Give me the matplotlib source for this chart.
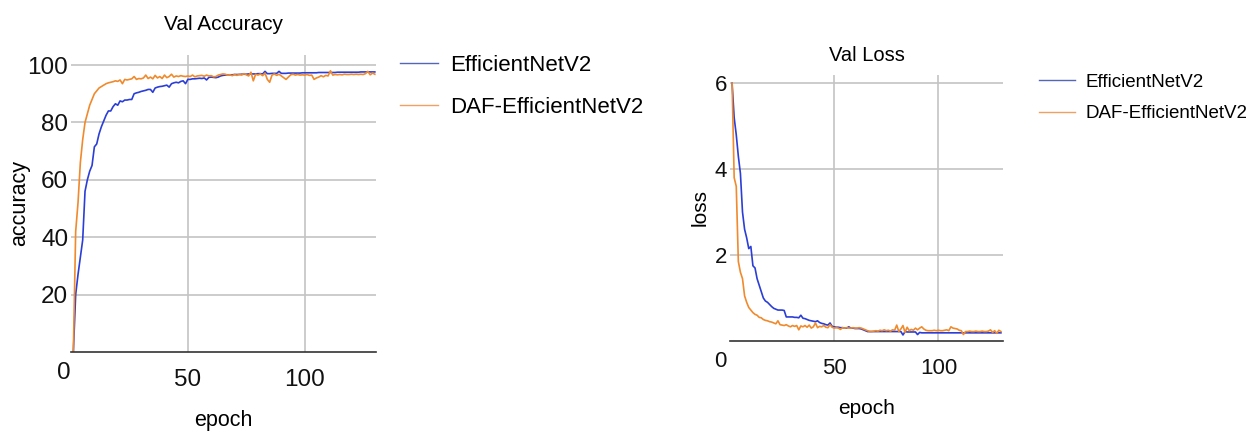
import matplotlib
matplotlib.use("Agg")
import matplotlib.pyplot as plt
import numpy as np
from matplotlib.lines import Line2D

plt.rcParams['font.family'] = ['Liberation Sans', 'DejaVu Sans']

epochs = list(range(1, 131))

acc_eff = [
    0, 20, 27, 33, 39, 56, 60, 63, 65, 71.5,
    72.5, 76, 78.5, 80.5, 82.5, 84, 84, 85.5, 86.5, 86,
    87.5, 87.2, 87.8, 87.8, 88, 88, 90, 90.3, 90.5, 90.8,
    91, 91.2, 91.5, 91.5, 90.5, 92, 92.3, 92.5, 92.6, 92.8,
    93, 92.3, 93.5, 93.8, 94, 93.8, 94.3, 94.5, 93.5, 95,
    95, 95.2, 95.2, 95.3, 95.4, 95.3, 95.5, 94.8, 95.7, 95.8,
    95.7, 95.6, 95.8, 96.2, 96.4, 96.5, 96.6, 96.6, 96.6, 96.7,
    96.7, 96.7, 96.8, 96.8, 96.8, 96.9, 96.9, 96.9, 96.9, 97.0,
    97.0, 96.9, 97.8, 97.0, 97.0, 97.1, 97.1, 97.1, 97.8, 97.1,
    97.1, 97.1, 97.2, 97.2, 97.2, 97.2, 97.2, 97.2, 97.3, 97.3,
    97.3, 97.3, 97.3, 97.3, 97.3, 97.4, 97.4, 97.4, 97.4, 97.4,
    97.4, 97.4, 97.4, 97.5, 97.5, 97.5, 97.5, 97.5, 97.5, 97.5,
    97.5, 97.5, 97.5, 97.6, 97.6, 97.6, 97.6, 97.6, 97.6, 97.6,
]

acc_daf = [
    0, 42, 52, 66, 74, 80, 83, 86, 88, 90,
    91, 92, 92.5, 93, 93.5, 93.8, 94, 94.2, 94.5, 94.3,
    94.8, 93.5, 95, 94.8, 95, 95.2, 96, 95, 95.3, 95.2,
    95.5, 96.5, 95.3, 95.8, 95.2, 96.4, 95.5, 96, 95.3, 96.5,
    95.6, 96, 96.8, 95.8, 96.2, 96, 96.3, 96.1, 96, 96.2,
    96, 96.5, 95.9, 96.2, 96.3, 96.4, 96.1, 96.5, 96.2, 96.3,
    95.9, 96.0, 96.5, 96.7, 96.9, 96.8, 96.5, 96.6, 96.3, 96.7,
    96.4, 96.8, 96.5, 97.0, 96.6, 96.2, 97.5, 94.5, 96.8, 96.5,
    96.9, 96.3, 97.2, 95.0, 94.0, 96.5, 96.9, 96.4, 96.8, 96.2,
    95.6, 95.0, 95.8, 96.6, 96.8, 96.5, 96.7, 96.5, 96.6, 96.5,
    96.7, 96.4, 96.5, 95.0, 95.5, 95.8, 96.3, 95.9, 96.4, 96.2,
    98.0, 96.5, 96.7, 96.6, 96.7, 96.6, 96.8, 96.7, 96.7, 96.8,
    96.7, 96.8, 96.7, 96.8, 96.7, 97.0, 97.8, 96.6, 97.2, 96.8,
]

loss_eff = [
    6.0, 5.2, 4.8, 4.3, 3.9, 3.0, 2.6, 2.4, 2.15, 2.2,
    1.75, 1.7, 1.45, 1.3, 1.15, 1.0, 0.93, 0.9, 0.85, 0.8,
    0.76, 0.74, 0.72, 0.72, 0.72, 0.71, 0.56, 0.56, 0.56, 0.56,
    0.55, 0.55, 0.54, 0.6, 0.53, 0.52, 0.5, 0.48, 0.47, 0.46,
    0.45, 0.47, 0.43, 0.41, 0.4, 0.38, 0.37, 0.42, 0.34, 0.33,
    0.32, 0.32, 0.31, 0.31, 0.3, 0.3, 0.33, 0.3, 0.3, 0.29,
    0.29, 0.29, 0.28, 0.26, 0.24, 0.22, 0.22, 0.22, 0.22, 0.22,
    0.22, 0.22, 0.22, 0.22, 0.22, 0.22, 0.22, 0.22, 0.22, 0.22,
    0.22, 0.22, 0.14, 0.22, 0.21, 0.21, 0.21, 0.21, 0.21, 0.15,
    0.2, 0.19, 0.19, 0.19, 0.19, 0.19, 0.19, 0.19, 0.19, 0.19,
    0.19, 0.19, 0.19, 0.19, 0.19, 0.19, 0.19, 0.19, 0.19, 0.19,
    0.19, 0.19, 0.19, 0.19, 0.19, 0.19, 0.19, 0.19, 0.19, 0.19,
    0.19, 0.19, 0.19, 0.19, 0.19, 0.19, 0.19, 0.19, 0.19, 0.19,
]

loss_daf = [
    6.0, 3.8, 3.6, 1.85, 1.6, 1.45, 1.05, 0.9, 0.78, 0.72,
    0.66, 0.62, 0.6, 0.55, 0.54, 0.5, 0.48, 0.47, 0.45, 0.44,
    0.42, 0.4, 0.47, 0.38, 0.37, 0.36, 0.38, 0.35, 0.33, 0.36,
    0.34, 0.36, 0.26, 0.35, 0.33, 0.36, 0.32, 0.37, 0.3, 0.33,
    0.42, 0.31, 0.34, 0.33, 0.36, 0.32, 0.31, 0.38, 0.32, 0.3,
    0.31, 0.3, 0.27, 0.31, 0.3, 0.31, 0.3, 0.3, 0.31, 0.3,
    0.3, 0.31, 0.3, 0.28, 0.26, 0.24, 0.22, 0.22, 0.23, 0.24,
    0.23, 0.25, 0.24, 0.26, 0.24, 0.25, 0.23, 0.26, 0.25, 0.37,
    0.22, 0.28, 0.36, 0.2, 0.32, 0.24, 0.27, 0.25, 0.3, 0.26,
    0.3, 0.33, 0.28, 0.25, 0.24, 0.24, 0.24, 0.25, 0.24, 0.25,
    0.24, 0.24, 0.25, 0.26, 0.24, 0.33, 0.3, 0.29, 0.28, 0.25,
    0.24, 0.15, 0.22, 0.22, 0.23, 0.22, 0.22, 0.23, 0.22, 0.22,
    0.23, 0.22, 0.22, 0.23, 0.26, 0.2, 0.24, 0.18, 0.25, 0.22,
]

series_names = ['EfficientNetV2', 'DAF-EfficientNetV2']
colors = ['#2b3ed6', '#f08a2c']
legend_colors = ['#5565b8', '#f0a060']

W, H = 1256, 434
fig = plt.figure(figsize=(W / 100, H / 100), dpi=100)

def px_axes(x0, y0, x1, y1):
    return fig.add_axes([x0 / W, 1 - y1 / H, (x1 - x0) / W, (y1 - y0) / H])

def style(ax, ylim, yticks, xlim, fs_tick):
    ax.set_xlim(*xlim)
    ax.set_ylim(*ylim)
    for s in ['top', 'right', 'left']:
        ax.spines[s].set_visible(False)
    ax.spines['bottom'].set_color('#333333')
    ax.spines['bottom'].set_linewidth(1.2)
    ax.set_yticks(yticks)
    ax.set_xticks([50, 100])
    ax.grid(True, color='#c4c4c4', linewidth=1.2)
    ax.set_axisbelow(True)
    ax.tick_params(axis='both', length=0, labelsize=fs_tick, colors='#111111')
    ax.tick_params(axis='x', pad=12)
    ax.tick_params(axis='y', pad=2)

# ---- Left: accuracy ----
ax1 = px_axes(71, 55, 376, 352)
ax1.plot(epochs, acc_eff, color=colors[0], lw=1.2)
ax1.plot(epochs, acc_daf, color=colors[1], lw=1.2)
style(ax1, (0, 103.5), [20, 40, 60, 80, 100], (0, 130.5), 17.5)
ax1.annotate('0', xy=(0, 0), xycoords='data', xytext=(-5, -7), textcoords='offset points',
             ha='center', va='top', fontsize=17.5, color='#111111')
ax1.set_title('Val Accuracy', fontsize=15, pad=18)
ax1.set_ylabel('accuracy', fontsize=15.5, labelpad=-2)
ax1.set_xlabel('epoch', fontsize=15.5, labelpad=14)

# ---- Right: loss ----
ax2 = px_axes(730, 75, 1003, 341)
ax2.plot(epochs, loss_eff, color=colors[0], lw=1.2)
ax2.plot(epochs, loss_daf, color=colors[1], lw=1.2)
style(ax2, (0, 6.19), [2, 4, 6], (0, 131), 16)
ax2.annotate('0', xy=(0, 0), xycoords='data', xytext=(-7, -7), textcoords='offset points',
             ha='center', va='top', fontsize=16, color='#111111')
ax2.set_title('Val Loss', fontsize=14.5, pad=10)
ax2.set_ylabel('loss', fontsize=15, labelpad=4)
ax2.set_xlabel('epoch', fontsize=15, labelpad=15)

h1 = [Line2D([], [], color=c, lw=1.0) for c in legend_colors]
fig.legend(h1, series_names, loc='upper left', bbox_to_anchor=(380 / W, 1 - 35 / H),
           frameon=False, fontsize=16, handlelength=1.7, handletextpad=0.55, labelspacing=0.95)
fig.legend(h1, series_names, loc='upper left', bbox_to_anchor=(1022 / W, 1 - 57 / H),
           frameon=False, fontsize=13.5, handlelength=1.9, handletextpad=0.6, labelspacing=0.75)

fig.savefig('out.png', dpi=100, facecolor='white')
